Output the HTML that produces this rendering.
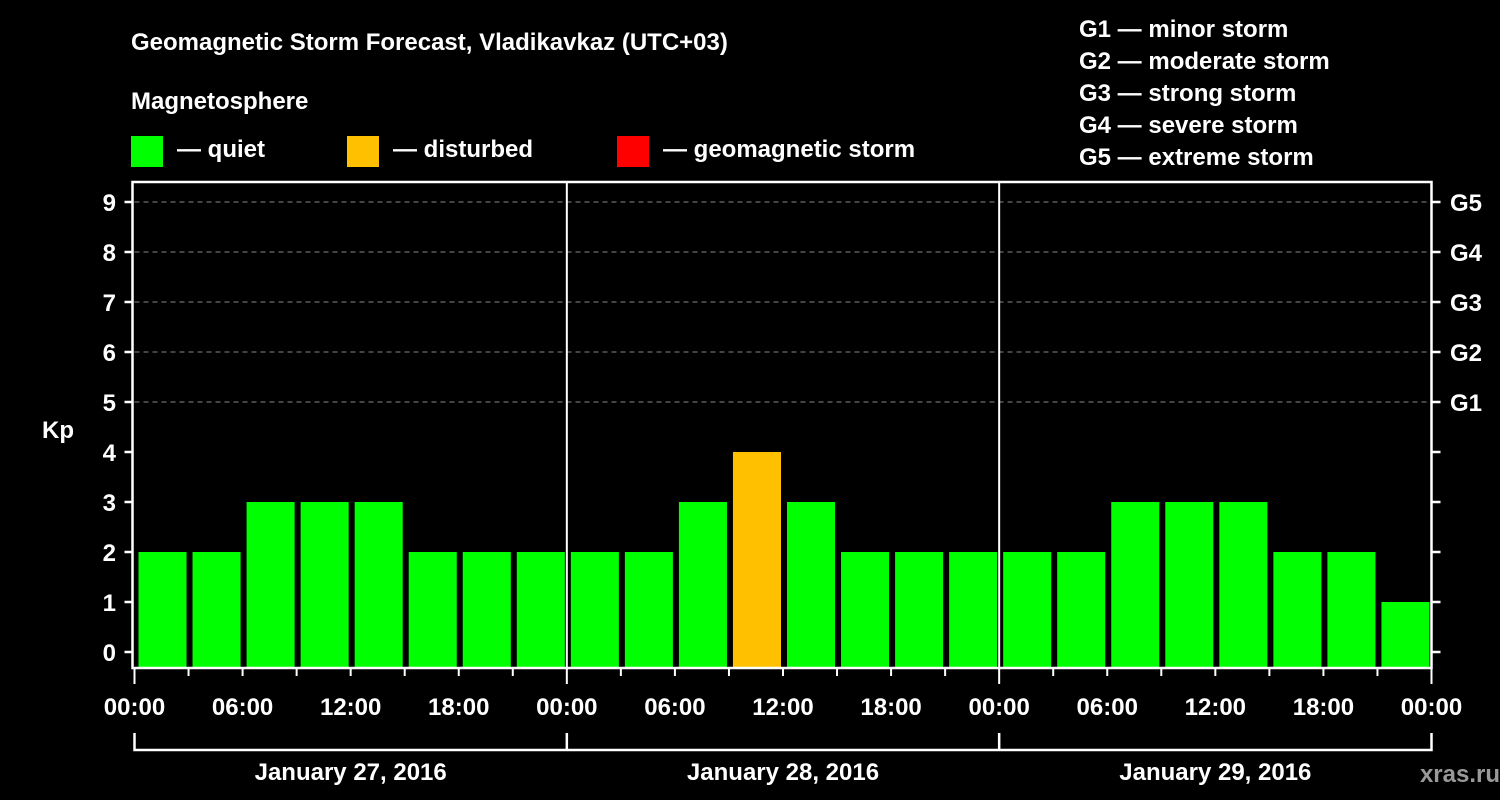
<!DOCTYPE html>
<html><head><meta charset="utf-8"><style>
body{margin:0;background:#000;width:1500px;height:800px;overflow:hidden}
svg{display:block}
text{font-family:"Liberation Sans",sans-serif;font-weight:bold;fill:#fff}
</style></head><body>
<svg id="c" width="1500" height="800">
<text x="131" y="50" font-size="24">Geomagnetic Storm Forecast, Vladikavkaz (UTC+03)</text>
<text x="131" y="109" font-size="24">Magnetosphere</text>
<rect x="131" y="136" width="32" height="31" fill="#00ff00"/>
<text x="177" y="157" font-size="24">— quiet</text>
<rect x="347" y="136" width="32" height="31" fill="#ffc000"/>
<text x="393" y="157" font-size="24">— disturbed</text>
<rect x="617" y="136" width="32" height="31" fill="#ff0000"/>
<text x="663" y="157" font-size="24">— geomagnetic storm</text>
<g font-size="24">
<text x="1079" y="37">G1 — minor storm</text>
<text x="1079" y="69">G2 — moderate storm</text>
<text x="1079" y="101">G3 — strong storm</text>
<text x="1079" y="133">G4 — severe storm</text>
<text x="1079" y="165">G5 — extreme storm</text>
</g>
<text x="42" y="438" font-size="24">Kp</text>
<text x="1500" y="782" font-size="24" text-anchor="end" fill="#aaa" style="fill:#999">xras.ru</text>
<g id="g"></g>
</svg>
<script>
const kpValues=[2,2,3,3,3,2,2,2, 2,2,3,4,3,2,2,2, 2,2,3,3,3,2,2,1];
const dayLabels=["January 27, 2016","January 28, 2016","January 29, 2016"];
const hourLabels=["00:00","06:00","12:00","18:00"];
const gLabels=["G1","G2","G3","G4","G5"];
const yTicks=[0,1,2,3,4,5,6,7,8,9];
const X0=134.5,X1=1431.5,TOP=182,BOT=668;
const x=h=>X0+(X1-X0)*h/72;
const y=v=>652-50*v;
const g=document.getElementById('g');
const NS='http://www.w3.org/2000/svg';
function mk(t,a,txt){const e=document.createElementNS(NS,t);for(const k in a)e.setAttribute(k,a[k]);if(txt!=null)e.textContent=txt;g.appendChild(e);return e;}
// grid
for(let v=5;v<=9;v++){const l=mk('line',{x1:X0,x2:X1,y1:y(v),y2:y(v),stroke:'#888','stroke-dasharray':'5,4','stroke-width':1});

}
// bars
kpValues.forEach((v,i)=>{const c=v>=5?'#ff0000':v>=4?'#ffc000':'#00ff00';
const r=mk('rect',{x:x(i*3)+4,width:x(3)-X0-6,y:y(v),height:BOT-y(v),fill:c});

});
// box
const b=mk('rect',{x:X0-2,y:TOP,width:X1-X0+2,height:BOT-TOP,fill:'none',stroke:'#fff','stroke-width':2.5});


for(let d=1;d<3;d++){const l=mk('line',{x1:x(d*24),x2:x(d*24),y1:TOP,y2:BOT,stroke:'#fff','stroke-width':2});

}
// y ticks
yTicks.forEach(v=>{mk('line',{x1:X0-10,x2:X0-2,y1:y(v),y2:y(v),stroke:'#fff','stroke-width':2.5});
mk('line',{x1:X1,x2:X1+9,y1:y(v),y2:y(v),stroke:'#fff','stroke-width':2.5});
const t=mk('text',{x:116,y:y(v)+9,'font-size':24,'text-anchor':'end'},v);

});
gLabels.forEach((s,i)=>{const t=mk('text',{x:1450,y:y(5+i)+9,'font-size':24},s);

});
// x ticks
for(let h=0;h<=72;h+=3){const big=h%24===0;mk('line',{x1:x(h),x2:x(h),y1:BOT,y2:BOT+(big?16:8),stroke:'#fff','stroke-width':2});}
for(let h=0;h<=72;h+=6){const t=mk('text',{x:x(h),y:715,'font-size':24,'text-anchor':'middle'},hourLabels[(h/6)%4]);

}
// bracket
mk('path',{d:`M${x(0)} 733V750H${x(72)}V733M${x(24)} 733V750M${x(48)} 733V750`,stroke:'#fff','stroke-width':2.5,fill:'none'});
dayLabels.forEach((s,i)=>{const t=mk('text',{x:x(i*24+12),y:780,'font-size':24,'text-anchor':'middle'},s);

});
</script>
</body></html>
